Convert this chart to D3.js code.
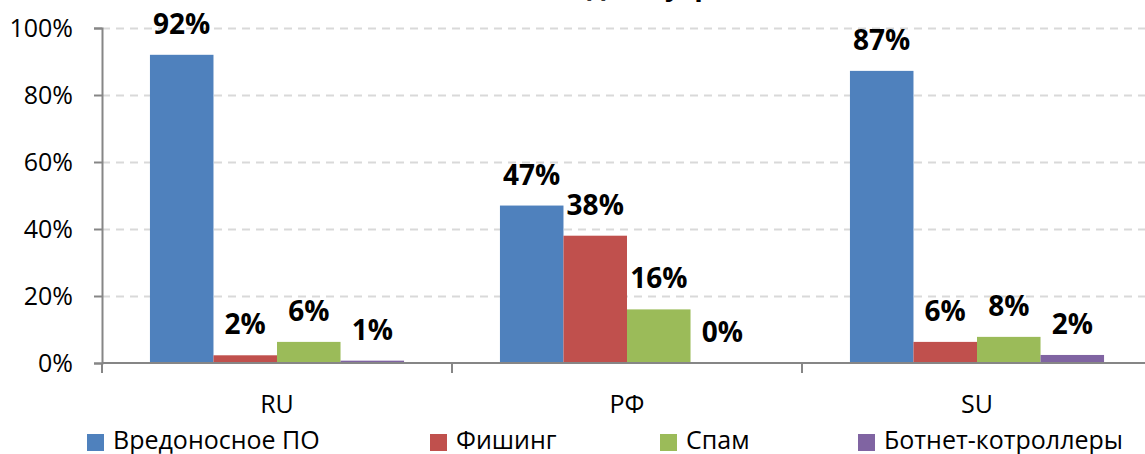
<!DOCTYPE html>
<html>
<head>
<meta charset="utf-8">
<script src="https://cdn.jsdelivr.net/npm/d3@7"></script>
<style>
  body { margin: 0; background: #fff; }
  text { font-family: "Open Sans", sans-serif; fill: #000; }
</style>
</head>
<body>
<div class="viz"></div>
<script>
var categories = ['RU', 'РФ', 'SU'];
var series = ['Вредоносное ПО', 'Фишинг', 'Спам', 'Ботнет-котроллеры'];
var malware = [0.92, 0.47, 0.872];
var phishing = [0.023, 0.38, 0.063];
var spam = [0.063, 0.16, 0.078];
var botnet = [0.007, 0, 0.024];
var yTicks = [0, 0.2, 0.4, 0.6, 0.8, 1];
var title = '(доля угроз)';

var colors = ['#4f81bd', '#c0504d', '#9bbb59', '#8064a2'];
var values = [malware, phishing, spam, botnet];

var width = 1145,
    height = 454,
    margin = {left: 102, top: 28, bottom: 363};

var svg = d3.select('.viz').append('svg')
  .attr('width', width)
  .attr('height', height);

var y = d3.scaleLinear()
  .domain([0, 1])
  .range([margin.bottom, margin.top]);

var x0 = d3.scaleBand()
  .domain(categories)
  .range([margin.left, margin.left + 1050])
  .paddingInner(0.274)
  .paddingOuter(0.137);

var x1 = d3.scaleBand()
  .domain(series)
  .range([0, x0.bandwidth()]);

// title, cut off by the top edge like the source
svg.append('text')
  .attr('x', 666)
  .attr('y', -5)
  .attr('text-anchor', 'middle')
  .style('font-weight', 'bold')
  .style('font-size', '28px')
  .text(title);

// grid
svg.append('g')
  .selectAll('line')
  .data(yTicks.slice(1))
  .enter()
  .append('line')
  .attr('x1', margin.left)
  .attr('x2', width)
  .attr('y1', function(d){ return Math.round(y(d)) + 0.5; })
  .attr('y2', function(d){ return Math.round(y(d)) + 0.5; })
  .attr('stroke', '#d9d9d9')
  .attr('stroke-width', 2)
  .attr('stroke-dasharray', '8,6');

// bars
var rows = [];
categories.forEach(function(c, i){
  series.forEach(function(s, j){
    rows.push({cat: c, ser: s, val: values[j][i], color: colors[j]});
  });
});

var groups = svg.append('g');

groups.selectAll('rect')
  .data(rows)
  .enter()
  .append('rect')
  .attr('x', function(d){ return x0(d.cat) + x1(d.ser); })
  .attr('width', x1.bandwidth())
  .attr('y', function(d){ return y(d.val); })
  .attr('height', function(d){ return y(0) - y(d.val); })
  .attr('fill', function(d){ return d.color; });

groups.selectAll('.lbl')
  .data(rows)
  .enter()
  .append('text')
  .attr('class', 'lbl')
  .attr('x', function(d){ return x0(d.cat) + x1(d.ser) + x1.bandwidth() / 2; })
  .attr('y', function(d){ return y(d.val) - 21; })
  .attr('text-anchor', 'middle')
  .style('font-weight', 'bold')
  .style('font-size', '28px')
  .text(function(d){ return Math.round(d.val * 100) + '%'; });

// y axis
var yAxis = d3.axisLeft(y)
  .tickValues(yTicks)
  .tickFormat(d3.format('.0%'))
  .tickSize(8)
  .tickPadding(21);

var yg = svg.append('g')
  .attr('transform', 'translate(' + margin.left + ',0)')
  .call(yAxis);
yg.selectAll('path, line').attr('stroke', '#868686').attr('stroke-width', 2);
yg.selectAll('text').style('font-size', '25px').style('font-family', '"Open Sans", sans-serif').attr('fill', '#000');

// x axis
var xAxis = d3.axisBottom(x0)
  .tickSize(0)
  .tickPadding(32);

var xg = svg.append('g')
  .attr('transform', 'translate(0,' + margin.bottom + ')')
  .call(xAxis);
xg.select('.domain').remove();
xg.selectAll('text').style('font-size', '25px').style('font-family', '"Open Sans", sans-serif').attr('fill', '#000');

xg.append('line')
  .attr('x1', margin.left)
  .attr('x2', width)
  .attr('stroke', '#868686')
  .attr('stroke-width', 2);

var bounds = categories.map(function(c){
  return x0(c) - x0.step() * x0.paddingInner() / 2;
});
bounds.push(x0.range()[1]);

xg.selectAll('.bnd')
  .data(bounds)
  .enter()
  .append('line')
  .attr('class', 'bnd')
  .attr('x1', function(d){ return d; })
  .attr('x2', function(d){ return d; })
  .attr('y1', 0)
  .attr('y2', 10)
  .attr('stroke', '#868686')
  .attr('stroke-width', 2);

// legend
var legendX = [87, 430, 660, 858];

var legend = svg.append('g')
  .selectAll('g')
  .data(series)
  .enter()
  .append('g')
  .attr('transform', function(d, i){ return 'translate(' + legendX[i] + ',434)'; });

legend.append('rect')
  .attr('width', 17)
  .attr('height', 17)
  .attr('fill', function(d, i){ return colors[i]; });

legend.append('text')
  .attr('x', 26)
  .attr('y', 15)
  .style('font-size', '25px')
  .text(function(d){ return d; });
</script>
</body>
</html>
